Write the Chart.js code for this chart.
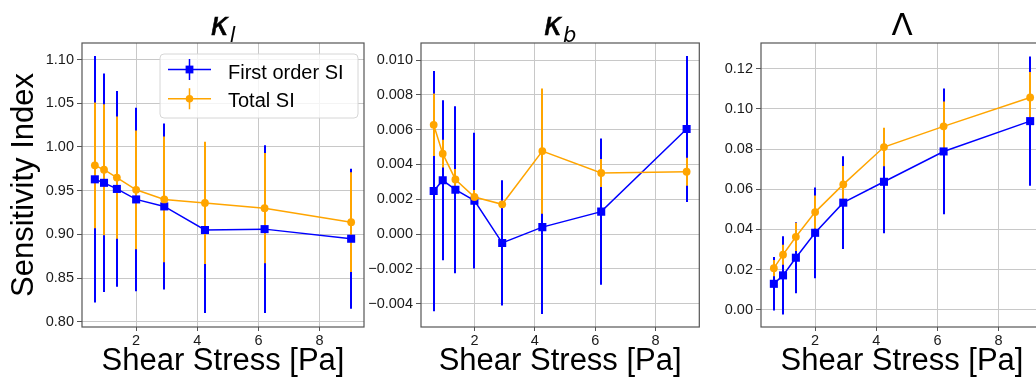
<!DOCTYPE html>
<html>
<head>
<meta charset="utf-8">
<script src="https://cdn.jsdelivr.net/npm/chart.js@4.4.1/dist/chart.umd.min.js"></script>
<style>
  html, body { margin: 0; padding: 0; background: #fff; overflow: hidden; }
  body { width: 1036px; height: 379px; position: relative; }
  canvas { position: absolute; top: 0; }
</style>
</head>
<body>
<canvas id="kl" width="370" height="379" style="left:0px"></canvas>
<canvas id="kb" width="340" height="379" style="left:365px"></canvas>
<canvas id="lam" width="345" height="379" style="left:705px"></canvas>
<script>
// shear stress values (x) shared by all three panels
var shear = [0.65, 0.95, 1.37, 2.0, 2.92, 4.25, 6.2, 9.03];
var xTicks = [2, 4, 6, 8];

// kappa_l
var firstKl = [0.963, 0.959, 0.952, 0.940, 0.932, 0.905, 0.906, 0.895];
var firstKlErr = [0.141, 0.125, 0.112, 0.105, 0.095, 0.095, 0.096, 0.080];
var totalKl = [0.979, 0.974, 0.965, 0.951, 0.940, 0.936, 0.930, 0.914];
var totalKlErr = [0.072, 0.075, 0.070, 0.068, 0.072, 0.070, 0.063, 0.057];
var klTicks = [0.80, 0.85, 0.90, 0.95, 1.00, 1.05, 1.10];

// kappa_b
var firstKb = [0.00247, 0.00309, 0.00255, 0.00192, -0.00051, 0.00040, 0.00129, 0.00604];
var firstKbErr = [0.0069, 0.0046, 0.0048, 0.0039, 0.0036, 0.0050, 0.0042, 0.0042];
var totalKb = [0.00628, 0.00462, 0.00314, 0.00213, 0.00171, 0.00477, 0.00351, 0.00358];
var totalKbErr = [0.0018, 0.0008, 0.0006, 0.0004, 0.0002, 0.0036, 0.0008, 0.0008];
var kbTicks = [-0.004, -0.002, 0.000, 0.002, 0.004, 0.006, 0.008, 0.010];

// Lambda
var firstLam = [0.0129, 0.0171, 0.0259, 0.0383, 0.0533, 0.0637, 0.0788, 0.0939];
var firstLamErr = [0.0133, 0.0195, 0.0177, 0.0226, 0.0231, 0.0256, 0.0313, 0.0322];
var totalLam = [0.0207, 0.0274, 0.0363, 0.0486, 0.0624, 0.0810, 0.0913, 0.1057];
var totalLamErr = [0.0040, 0.0050, 0.0070, 0.0083, 0.0091, 0.0096, 0.0124, 0.0126];
var lamTicks = [0.00, 0.02, 0.04, 0.06, 0.08, 0.10, 0.12];

var FONT = "'Liberation Sans', Arial, sans-serif";
var BLUE = '#0000ff';
var ORANGE = '#ffa500';

// vertical error bars, drawn under all lines/markers like matplotlib
var errorBars = {
  id: 'errorBars',
  beforeDatasetsDraw: function (chart) {
    var ctx = chart.ctx, a = chart.chartArea;
    var xs = chart.scales.x, ys = chart.scales.y;
    ctx.save();
    ctx.beginPath();
    ctx.rect(a.left, a.top, a.right - a.left, a.bottom - a.top);
    ctx.clip();
    chart.data.datasets.forEach(function (ds) {
      ctx.strokeStyle = ds.borderColor;
      ctx.lineWidth = 2;
      ds.data.forEach(function (p, i) {
        var px = Math.round(xs.getPixelForValue(p.x));
        ctx.beginPath();
        ctx.moveTo(px, ys.getPixelForValue(p.y - ds.err[i]));
        ctx.lineTo(px, ys.getPixelForValue(p.y + ds.err[i]));
        ctx.stroke();
      });
    });
    ctx.restore();
  }
};

// axes frame (all four spines)
var frame = {
  id: 'frame',
  afterDatasetsDraw: function (chart) {
    var ctx = chart.ctx, a = chart.chartArea;
    ctx.save();
    ctx.strokeStyle = '#555';
    ctx.lineWidth = 1.2;
    ctx.strokeRect(a.left, a.top, a.right - a.left, a.bottom - a.top);
    ctx.restore();
  }
};

// panel title with optional italic subscript
var panelTitle = {
  id: 'panelTitle',
  afterDraw: function (chart, args, opts) {
    var ctx = chart.ctx, a = chart.chartArea;
    var main = opts.italic ? 'italic 31px "DejaVu Sans"' : '31px "DejaVu Sans"';
    var sub = 'italic 21px "DejaVu Sans"';
    ctx.save();
    ctx.font = main;
    var w1 = ctx.measureText(opts.text).width;
    ctx.font = sub;
    var w2 = opts.sub ? ctx.measureText(opts.sub).width + 1 : 0;
    var x0 = (a.left + a.right) / 2 - (w1 + w2) / 2;
    ctx.fillStyle = '#000';
    ctx.strokeStyle = '#000';
    ctx.lineWidth = 0.6;
    ctx.textBaseline = 'alphabetic';
    ctx.textAlign = 'left';
    ctx.font = main;
    ctx.fillText(opts.text, x0, 35);
    if (opts.italic) ctx.strokeText(opts.text, x0, 35);
    if (opts.sub) {
      ctx.font = sub;
      ctx.fillText(opts.sub, x0 + w1 + 1, 41.5);
    }
    ctx.restore();
  }
};

// matplotlib-style legend box in the upper right of the first panel
var boxLegend = {
  id: 'boxLegend',
  afterDraw: function (chart, args, opts) {
    if (!opts.show) return;
    var ctx = chart.ctx, a = chart.chartArea;
    var r = a.right - 6, l = a.left + 78, t = a.top + 11, b = a.top + 75;
    ctx.save();
    ctx.beginPath();
    ctx.roundRect(l, t, r - l, b - t, 4);
    ctx.fillStyle = 'rgba(255,255,255,0.8)';
    ctx.fill();
    ctx.strokeStyle = '#d6d6d6';
    ctx.lineWidth = 1;
    ctx.stroke();
    var rows = [a.top + 26.5, a.top + 55.7];
    var base = [a.top + 35.5, a.top + 64.2];
    chart.data.datasets.forEach(function (ds, i) {
      var y = rows[i];
      ctx.strokeStyle = ds.borderColor;
      ctx.lineWidth = 1.5;
      ctx.beginPath();
      ctx.moveTo(l + 8, y); ctx.lineTo(l + 51, y);
      ctx.moveTo(l + 29.5, y - 10.5); ctx.lineTo(l + 29.5, y + 10.5);
      ctx.stroke();
      ctx.fillStyle = ds.borderColor;
      ctx.beginPath();
      if (ds.pointStyle === 'rect') {
        ctx.rect(l + 29.5 - 3.9, y - 3.9, 7.8, 7.8);
      } else {
        ctx.arc(l + 29.5, y, 3.8, 0, Math.PI * 2);
      }
      ctx.fill();
      ctx.fillStyle = '#000';
      ctx.font = '20px ' + FONT;
      ctx.textBaseline = 'alphabetic';
      ctx.fillText(ds.label, l + 68, base[i]);
    });
    ctx.restore();
  }
};

function fmt(v, d) {
  return v.toFixed(d).replace('-', '\u2212');
}

function makePanel(id, cfg) {
  var points = function (ys) {
    return shear.map(function (x, i) { return { x: x, y: ys[i] }; });
  };
  return new Chart(document.getElementById(id), {
    type: 'scatter',
    data: {
      datasets: [{
        label: 'First order SI',
        data: points(cfg.first),
        err: cfg.firstErr,
        showLine: true,
        borderColor: BLUE,
        backgroundColor: BLUE,
        borderWidth: 1.5,
        pointStyle: 'rect',
        pointRadius: 5.7,
        pointHoverRadius: 5.7,
        pointBorderWidth: 0,
        order: 1
      }, {
        label: 'Total SI',
        data: points(cfg.total),
        err: cfg.totalErr,
        showLine: true,
        borderColor: ORANGE,
        backgroundColor: ORANGE,
        borderWidth: 1.5,
        pointStyle: 'circle',
        pointRadius: 3.9,
        pointHoverRadius: 3.9,
        pointBorderWidth: 0,
        order: 0
      }]
    },
    options: {
      responsive: false,
      animation: false,
      layout: { padding: { top: 43, left: 0, right: cfg.padRight, bottom: 0 } },
      plugins: {
        legend: { display: false },
        tooltip: { enabled: false },
        panelTitle: cfg.title,
        boxLegend: { show: !!cfg.legend }
      },
      scales: {
        x: {
          type: 'linear',
          min: 0.23,
          max: 9.45,
          afterBuildTicks: function (s) { s.ticks = xTicks.map(function (v) { return { value: v }; }); },
          afterFit: function (s) { s.height = 52; },
          grid: { color: '#c8c8c8', lineWidth: 1, tickLength: 4, tickColor: '#555' },
          border: { display: false },
          ticks: {
            autoSkip: false,
            maxRotation: 0,
            padding: 1,
            color: '#1a1a1a',
            font: { family: FONT, size: 14.5 },
            callback: function (v) { return String(v); }
          },
          title: {
            display: true,
            text: 'Shear Stress [Pa]',
            color: '#000',
            font: { family: FONT, size: 31, lineHeight: 1 },
            padding: { top: 0, bottom: 2 }
          }
        },
        y: {
          type: 'linear',
          min: cfg.yMin,
          max: cfg.yMax,
          afterBuildTicks: function (s) { s.ticks = cfg.yTicks.map(function (v) { return { value: v }; }); },
          afterFit: function (s) { s.width = cfg.yWidth; },
          grid: { color: '#c8c8c8', lineWidth: 1, tickLength: 5, tickColor: '#555' },
          border: { display: false },
          ticks: {
            autoSkip: false,
            padding: 3,
            color: '#1a1a1a',
            font: { family: FONT, size: 14.5 },
            callback: function (v) { return fmt(v, cfg.decimals); }
          },
          title: {
            display: !!cfg.yTitle,
            text: cfg.yTitle || '',
            color: '#000',
            font: { family: FONT, size: 31, lineHeight: 1 },
            padding: { top: 9, bottom: 0 }
          }
        }
      }
    },
    plugins: [errorBars, frame, panelTitle, boxLegend]
  });
}

makePanel('kl', {
  first: firstKl, firstErr: firstKlErr, total: totalKl, totalErr: totalKlErr,
  yTicks: klTicks, yMin: 0.794, yMax: 1.119, decimals: 2,
  yWidth: 82, padRight: 6, yTitle: 'Sensitivity Index', legend: true,
  title: { text: '\u03BA', sub: 'l', italic: true }
});

makePanel('kb', {
  first: firstKb, firstErr: firstKbErr, total: totalKb, totalErr: totalKbErr,
  yTicks: kbTicks, yMin: -0.00534, yMax: 0.01098, decimals: 3,
  yWidth: 56, padRight: 5,
  title: { text: '\u03BA', sub: 'b', italic: true }
});

makePanel('lam', {
  first: firstLam, firstErr: firstLamErr, total: totalLam, totalErr: totalLamErr,
  yTicks: lamTicks, yMin: -0.0086, yMax: 0.1328, decimals: 2,
  yWidth: 56, padRight: 7,
  title: { text: '\u039B', sub: '', italic: false }
});
</script>
</body>
</html>
